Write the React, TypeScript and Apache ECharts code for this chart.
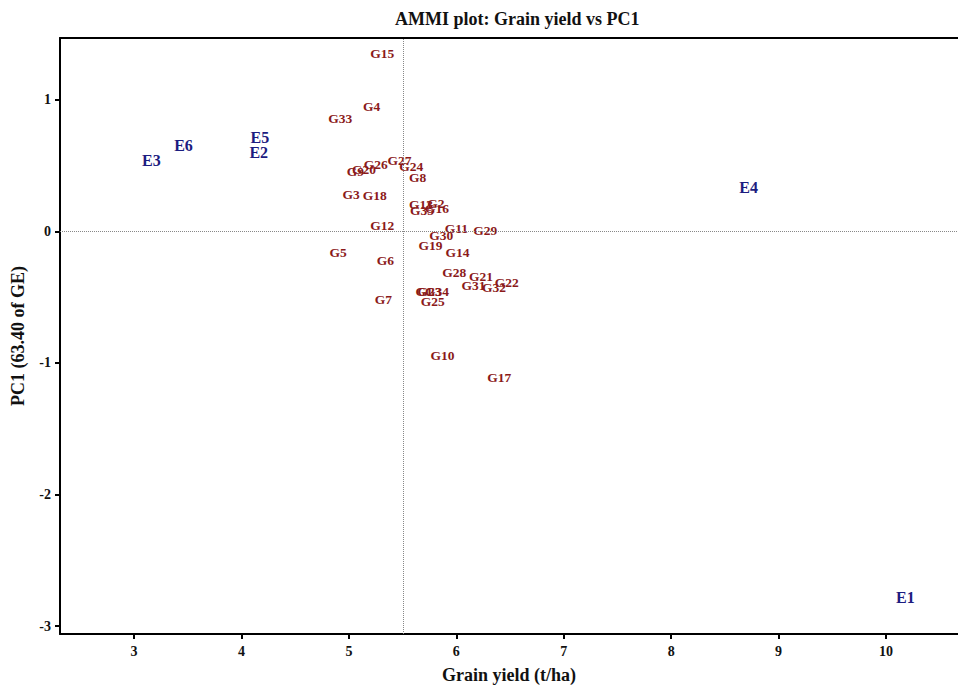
import React, { useEffect, useRef } from "react";
import * as echarts from "echarts";

const envNames = ["E1", "E2", "E3", "E4", "E5", "E6"];
const envYield = [10.18, 4.16, 3.16, 8.72, 4.17, 3.46];
const envPC1 = [-2.78, 0.6, 0.54, 0.33, 0.71, 0.65];

const genNames = [
  "G1", "G2", "G3", "G4", "G5", "G6", "G7", "G8", "G9", "G10",
  "G11", "G12", "G13", "G14", "G15", "G16", "G17", "G18", "G19", "G20",
  "G21", "G22", "G23", "G24", "G25", "G26", "G27", "G28", "G29", "G30",
  "G31", "G32", "G33", "G34", "G35",
];
const genYield = [
  5.7, 5.81, 5.02, 5.21, 4.9, 5.34, 5.32, 5.64, 5.06, 5.87,
  6.0, 5.31, 5.67, 6.01, 5.31, 5.82, 6.4, 5.24, 5.76, 5.14,
  6.23, 6.47, 5.75, 5.58, 5.78, 5.25, 5.47, 5.98, 6.27, 5.86,
  6.16, 6.35, 4.92, 5.82, 5.68,
];
const genPC1 = [
  -0.46, 0.21, 0.28, 0.95, -0.16, -0.22, -0.52, 0.41, 0.456, -0.94,
  0.02, 0.046, 0.205, -0.16, 1.35, 0.175, -1.11, 0.27, -0.11, 0.47,
  -0.34, -0.39, -0.46, 0.49, -0.53, 0.51, 0.54, -0.31, 0.01, -0.03,
  -0.41, -0.43, 0.86, -0.46, 0.16,
];

const xTicks = [3, 4, 5, 6, 7, 8, 9, 10];
const yTicks = [-3, -2, -1, 0, 1];
const meanYield = 5.51;

const FONT = "'Liberation Serif', 'Times New Roman', serif";

export default function App() {
  const ref = useRef<HTMLDivElement>(null);
  useEffect(() => {
    document.body.style.margin = "0";
    if (!ref.current) return;
    const chart = echarts.init(ref.current, null, { renderer: "svg" });
    const xMin = 2.31;
    const xMax = 10.67;
    const yMin = -3.06;
    const yMax = 1.47;
    chart.setOption({
      animation: false,
      backgroundColor: "#ffffff",
      title: {
        text: "AMMI plot: Grain yield vs PC1",
        left: 390,
        top: 5,
        textStyle: { fontFamily: FONT, fontWeight: "bold", fontSize: 18, color: "#111" },
      },
      grid: { left: 60, top: 38, right: 0, bottom: 52, outerBoundsMode: "none", containLabel: false },
      xAxis: [
        {
          type: "value",
          min: xMin,
          max: xMax,
          position: "bottom",
          name: "Grain yield (t/ha)",
          nameLocation: "middle",
          nameGap: 32,
          nameTextStyle: { fontFamily: FONT, fontWeight: "bold", fontSize: 18, color: "#111" },
          axisLine: { show: true, onZero: false, lineStyle: { color: "#000", width: 2 } },
          axisTick: { show: true, length: 5, customValues: xTicks, lineStyle: { color: "#000", width: 2 } },
          axisLabel: {
            customValues: xTicks,
            margin: 10,
            fontFamily: FONT,
            fontWeight: "bold",
            fontSize: 14,
            color: "#111",
          },
          splitLine: { show: false },
        },
        {
          type: "value",
          min: xMin,
          max: xMax,
          position: "top",
          axisLine: { show: true, onZero: false, lineStyle: { color: "#000", width: 2 } },
          axisTick: { show: false },
          axisLabel: { show: false },
          splitLine: { show: false },
        },
      ],
      yAxis: {
        type: "value",
        min: yMin,
        max: yMax,
        name: "PC1 (63.40 of GE)",
        nameLocation: "middle",
        nameGap: 33,
        nameTextStyle: { fontFamily: FONT, fontWeight: "bold", fontSize: 18, color: "#111" },
        axisLine: { show: true, onZero: false, lineStyle: { color: "#000", width: 2 } },
        axisTick: { show: true, length: 5, customValues: yTicks, lineStyle: { color: "#000", width: 2 } },
        axisLabel: {
          customValues: yTicks,
          margin: 9,
          fontFamily: FONT,
          fontWeight: "bold",
          fontSize: 14,
          color: "#111",
        },
        splitLine: { show: false },
      },
      series: [
        {
          name: "Genotypes",
          type: "scatter",
          symbolSize: 0,
          itemStyle: { opacity: 1 },
          data: genNames.map((n, i) => [genYield[i], genPC1[i], n]),
          label: {
            show: true,
            position: "inside",
            formatter: (p: any) => p.data[2],
            fontFamily: FONT,
            fontWeight: "bold",
            fontSize: 13.5,
            color: "#8b1a1a",
          },
          markLine: {
            silent: true,
            symbol: "none",
            label: { show: false },
            lineStyle: { color: "#888", type: "dotted", width: 1, opacity: 1 },
            data: [{ xAxis: meanYield }, { yAxis: 0 }],
          },
          z: 3,
        },
        {
          name: "Environments",
          type: "scatter",
          symbolSize: 0,
          itemStyle: { opacity: 1 },
          data: envNames.map((n, i) => [envYield[i], envPC1[i], n]),
          label: {
            show: true,
            position: "inside",
            formatter: (p: any) => p.data[2],
            fontFamily: FONT,
            fontWeight: "bold",
            fontSize: 16,
            color: "#1c1c80",
          },
          z: 4,
        },
      ],
    });
    return () => chart.dispose();
  }, []);
  return <div ref={ref} style={{ width: 958, height: 686 }} />;
}
